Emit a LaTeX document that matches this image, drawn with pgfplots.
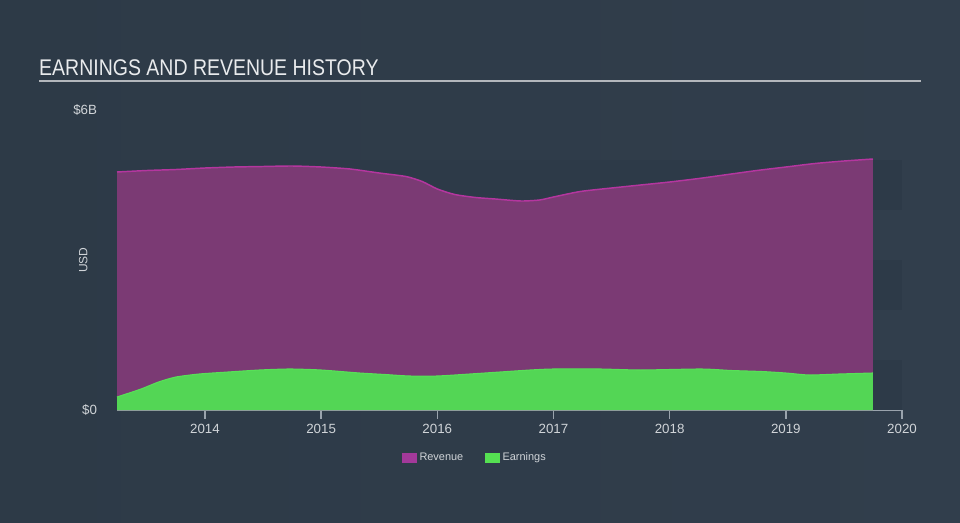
\documentclass[border=0pt]{standalone}
\usepackage{fontspec}
\setmainfont{Liberation Sans}
\usepackage{pgfplots}
\pgfplotsset{compat=1.18}
\definecolor{bgL}{HTML}{2D3A47}
\definecolor{bgM}{HTML}{344557}
\definecolor{bgR}{HTML}{313E4C}
\definecolor{band}{HTML}{2D3A48}
\definecolor{revfill}{HTML}{7B3A74}
\definecolor{revline}{HTML}{B4369F}
\definecolor{revleg}{HTML}{A3399A}
\definecolor{earnfill}{HTML}{53D655}
\definecolor{earnline}{HTML}{58E058}
\definecolor{earnleg}{HTML}{55E052}
\definecolor{axisgray}{HTML}{9AA3AD}
\definecolor{ticktext}{HTML}{D0D4D8}
\definecolor{titletext}{HTML}{E9EBED}
\definecolor{ruler}{HTML}{B3B7BC}
\begin{document}
\begin{tikzpicture}
\begin{scope}[x=0.75pt,y=0.75pt]
\shade[left color=bgL, middle color=bgM, right color=bgR] (0,0) rectangle (960,522);
\node[anchor=base west, inner sep=0pt, text=titletext, xscale=0.86, font=\fontsize{17}{19}\selectfont] at (39,446) {EARNINGS AND REVENUE HISTORY};
\draw[ruler, line width=1.5pt] (39,441) -- (921,441);
\end{scope}
\begin{axis}[
  at={(87.75pt,84pt)}, anchor=south west,
  scale only axis, width=588.75pt, height=225pt,
  xmin=2013.243, xmax=2020, ymin=0, ymax=6,
  axis x line*=bottom, axis y line*=left,
  x axis line style={draw=axisgray, line width=1.1pt, -},
  y axis line style={draw=none},
  xtick={2014,2015,2016,2017,2018,2019,2020},
  xticklabels={2014,2015,2016,2017,2018,2019,2020},
  x tick style={draw=axisgray, line width=1pt},
  tick align=outside, major tick length=6.5pt,
  ytick={0,6}, yticklabels={\$0,\$6B},
  y tick style={draw=none},
  ticklabel style={text=ticktext, font=\fontsize{10}{12}\selectfont},
  xticklabel style={yshift=-0.5pt},
  yticklabel style={xshift=-5pt},
  ylabel={USD},
  ylabel style={at={(axis description cs:-0.043,0.5)}, anchor=center, text=ticktext, font=\fontsize{9}{10}\selectfont},
  clip=false,
  legend style={at={(axis description cs:0.456,-0.16)}, anchor=center, draw=none, fill=none, legend columns=2, text=ticktext, font=\fontsize{8.2}{10}\selectfont, /tikz/every even column/.append style={column sep=14pt}},
  legend image code/.code={\fill[#1, draw=none] (0pt,-4pt) rectangle (11.5pt,4pt);},
]
\fill[band] (axis cs:2013.243,0) rectangle (axis cs:2020,1);
\fill[band] (axis cs:2013.243,2) rectangle (axis cs:2020,3);
\fill[band] (axis cs:2013.243,4) rectangle (axis cs:2020,5);
\addplot[forget plot, fill=revfill, draw=none, smooth, tension=0.4] coordinates {
(2013.243,4.76) (2013.5,4.79) (2013.75,4.81) (2014,4.84) (2014.25,4.86) (2014.5,4.87) (2014.75,4.88) (2015,4.86) (2015.25,4.82) (2015.5,4.74) (2015.73,4.67) (2015.87,4.57) (2016,4.42) (2016.15,4.31) (2016.33,4.25) (2016.5,4.22) (2016.72,4.18) (2016.88,4.20) (2017,4.26) (2017.23,4.37) (2017.5,4.44) (2017.75,4.50) (2018,4.56) (2018.25,4.63) (2018.5,4.71) (2018.75,4.79) (2019,4.86) (2019.25,4.93) (2019.5,4.98) (2019.75,5.02)
} \closedcycle;
\addplot[forget plot, draw=revline, line width=1.1pt, smooth, tension=0.4] coordinates {
(2013.243,4.76) (2013.5,4.79) (2013.75,4.81) (2014,4.84) (2014.25,4.86) (2014.5,4.87) (2014.75,4.88) (2015,4.86) (2015.25,4.82) (2015.5,4.74) (2015.73,4.67) (2015.87,4.57) (2016,4.42) (2016.15,4.31) (2016.33,4.25) (2016.5,4.22) (2016.72,4.18) (2016.88,4.20) (2017,4.26) (2017.23,4.37) (2017.5,4.44) (2017.75,4.50) (2018,4.56) (2018.25,4.63) (2018.5,4.71) (2018.75,4.79) (2019,4.86) (2019.25,4.93) (2019.5,4.98) (2019.75,5.02)
};
\addplot[forget plot, fill=earnfill, draw=none, smooth, tension=0.4] coordinates {
(2013.243,0.26) (2013.45,0.42) (2013.6,0.56) (2013.75,0.66) (2013.95,0.72) (2014.2,0.76) (2014.47,0.80) (2014.73,0.82) (2015,0.80) (2015.33,0.74) (2015.55,0.71) (2015.76,0.68) (2016,0.68) (2016.28,0.72) (2016.54,0.76) (2016.8,0.80) (2017,0.82) (2017.4,0.82) (2017.75,0.80) (2018.27,0.82) (2018.53,0.79) (2018.79,0.77) (2019,0.74) (2019.2,0.70) (2019.46,0.72) (2019.75,0.74)
} \closedcycle;
\addplot[forget plot, draw=earnline, line width=0.8pt, smooth, tension=0.4] coordinates {
(2013.243,0.26) (2013.45,0.42) (2013.6,0.56) (2013.75,0.66) (2013.95,0.72) (2014.2,0.76) (2014.47,0.80) (2014.73,0.82) (2015,0.80) (2015.33,0.74) (2015.55,0.71) (2015.76,0.68) (2016,0.68) (2016.28,0.72) (2016.54,0.76) (2016.8,0.80) (2017,0.82) (2017.4,0.82) (2017.75,0.80) (2018.27,0.82) (2018.53,0.79) (2018.79,0.77) (2019,0.74) (2019.2,0.70) (2019.46,0.72) (2019.75,0.74)
};
\addlegendimage{fill=revleg}
\addlegendentry{Revenue}
\addlegendimage{fill=earnleg}
\addlegendentry{Earnings}
\end{axis}
\end{tikzpicture}
\end{document}
